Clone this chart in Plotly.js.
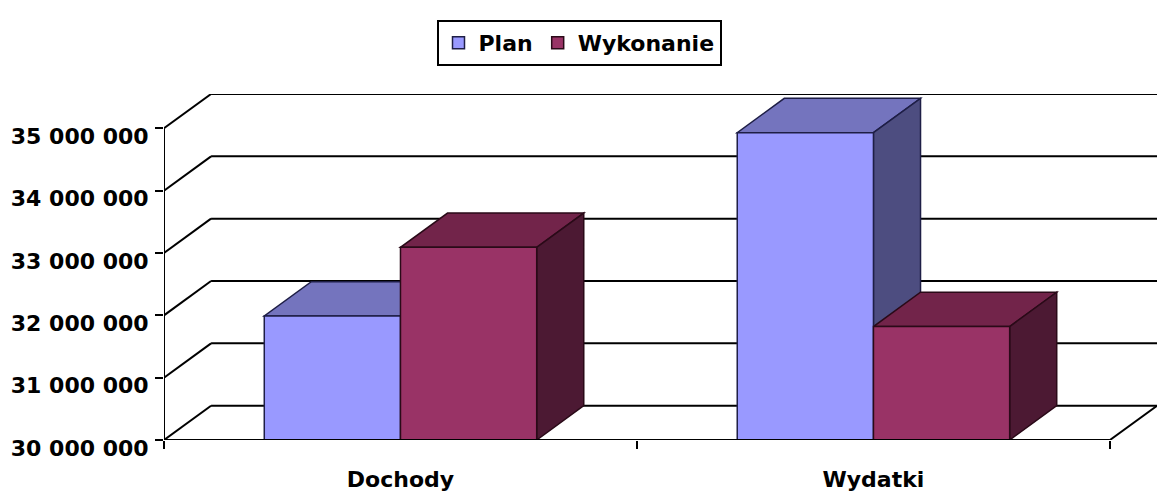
<!DOCTYPE html>
<html>
<head>
<meta charset="utf-8">
<script src="https://cdn.plot.ly/plotly-3.0.1.min.js"></script>
<style>html,body{margin:0;padding:0;background:#fff;}#chart{width:1158px;height:493px;}</style>
</head>
<body>
<div id="chart"></div>
<script>
// ---- data ----
const categories = ["Dochody", "Wydatki"];
const planValues = [31990000, 34930000];
const wykonanieValues = [33090000, 31820000];
const seriesNames = ["Plan", "Wykonanie"];
const yTickValues = [30000000, 31000000, 32000000, 33000000, 34000000, 35000000];

// ---- styling / geometry constants ----
const yMin = 30000000;
const depthY = 550000;      // oblique depth in value units
const depthX = 0.0995;      // oblique depth in category units
const barGap = 0.424;
const barW = (1 - barGap) / 2;
const colors = {
  plan: {front: "#9999FF", top: "#7474BE", side: "#4D4D80", edge: "#1E1E46"},
  wyk:  {front: "#993366", top: "#72244A", side: "#4C1933", edge: "#2A0A18"}
};
const fontBase = {family: "DejaVu Sans", size: 22, color: "#000", weight: "bold"};

const shapes = [];
// left wall diagonals + back wall gridlines
yTickValues.forEach(v => {
  shapes.push({type: "line", layer: "between", xref: "x", yref: "y",
    x0: -0.5, y0: v, x1: -0.5 + depthX, y1: v + depthY, line: {color: "#000", width: 2}});
  shapes.push({type: "line", layer: "between", xref: "x", yref: "y",
    x0: -0.5 + depthX, y0: v + depthY, x1: 1.5 + depthX, y1: v + depthY, line: {color: "#000", width: 2}});
});

function faces(x0, x1, v, c) {
  const top = `M${x0},${v} L${x1},${v} L${x1 + depthX},${v + depthY} L${x0 + depthX},${v + depthY} Z`;
  const side = `M${x1},${v} L${x1 + depthX},${v + depthY} L${x1 + depthX},${yMin + depthY} L${x1},${yMin} Z`;
  shapes.push({type: "path", layer: "between", xref: "x", yref: "y", path: top,
    fillcolor: c.top, line: {color: c.edge, width: 1.5}});
  shapes.push({type: "path", layer: "between", xref: "x", yref: "y", path: side,
    fillcolor: c.side, line: {color: c.edge, width: 1.5}});
}
categories.forEach((cat, i) => {
  faces(i - barW, i, planValues[i], colors.plan);
  faces(i, i + barW, wykonanieValues[i], colors.wyk);
});

// front axis line, floor front edge, floor right edge
shapes.push({type: "line", layer: "above", xref: "x", yref: "y",
  x0: -0.5, y0: yMin, x1: -0.5, y1: yTickValues[yTickValues.length - 1], line: {color: "#000", width: 2}});
shapes.push({type: "line", layer: "above", xref: "x", yref: "y",
  x0: -0.5, y0: yMin, x1: 1.5, y1: yMin, line: {color: "#000", width: 2}});
shapes.push({type: "line", layer: "above", xref: "x", yref: "y",
  x0: 1.5, y0: yMin, x1: 1.5 + depthX, y1: yMin + depthY, line: {color: "#000", width: 2}});

const traces = [
  {type: "bar", name: seriesNames[0], x: categories, y: planValues,
   marker: {color: colors.plan.front, line: {color: colors.plan.edge, width: 1.5}}, hoverinfo: "skip"},
  {type: "bar", name: seriesNames[1], x: categories, y: wykonanieValues,
   marker: {color: colors.wyk.front, line: {color: colors.wyk.edge, width: 1.5}}, hoverinfo: "skip"}
];

const layout = {
  width: 1158, height: 493,
  margin: {l: 164, r: 1, t: 94, b: 53},
  paper_bgcolor: "#fff", plot_bgcolor: "#fff",
  barmode: "group", bargap: barGap, bargroupgap: 0,
  separators: ". ",
  font: fontBase,
  showlegend: true,
  legend: {orientation: "h", xref: "container", yref: "container", x: 0.5, xanchor: "center",
    y: 1 - 20 / 493, yanchor: "top", bordercolor: "#000", borderwidth: 2, bgcolor: "#fff",
    font: {family: "DejaVu Sans", size: 22, color: "#000", weight: "bold"}, itemwidth: 30},
  xaxis: {type: "category", range: [-0.5, 1.5 + depthX], tickson: "boundaries",
    ticks: "outside", ticklen: 8, tickwidth: 2, tickcolor: "#000",
    showgrid: false, showline: false, zeroline: false, fixedrange: true,
    tickfont: fontBase, ticklabelstandoff: 24},
  yaxis: {range: [yMin, 35000000 + depthY], tickvals: yTickValues, tickformat: ",d",
    ticks: "outside", ticklen: 8, tickwidth: 2, tickcolor: "#000",
    showgrid: false, showline: false, zeroline: false, fixedrange: true,
    tickfont: fontBase, ticklabelstandoff: 2, ticklabelshift: 8},
  shapes: shapes
};

Plotly.newPlot("chart", traces, layout, {displayModeBar: false, staticPlot: true});
</script>
</body>
</html>
